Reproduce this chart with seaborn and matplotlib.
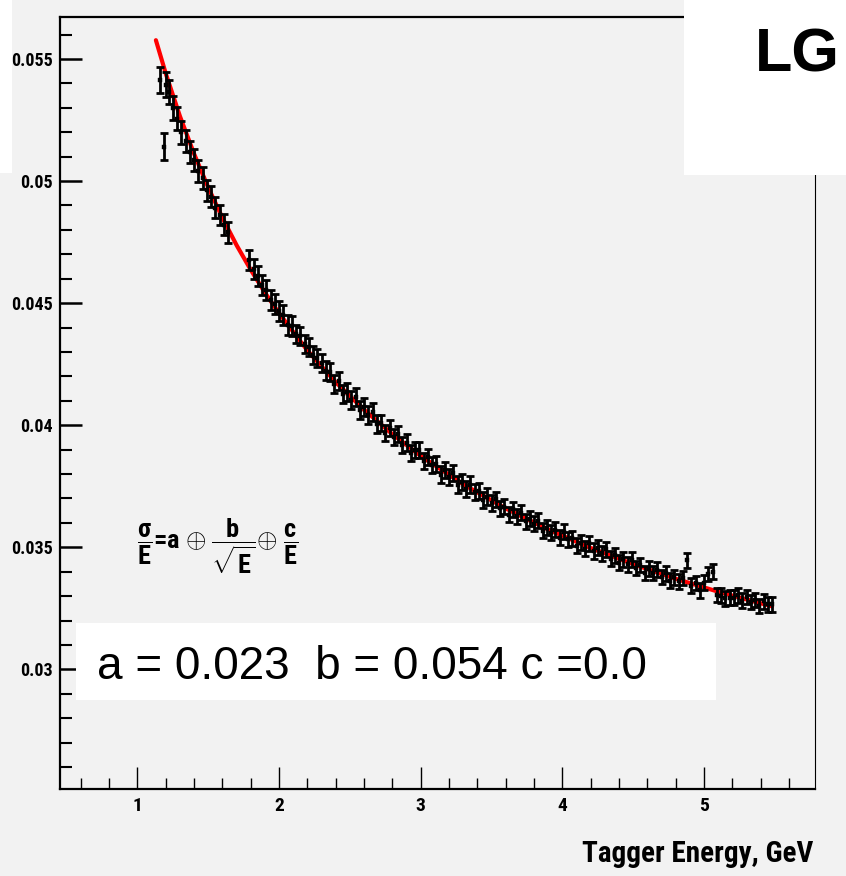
import matplotlib
matplotlib.use("Agg")
import matplotlib.pyplot as plt
import seaborn as sns
import pandas as pd
from matplotlib.patches import Rectangle
from matplotlib.ticker import MultipleLocator

# ---------------- data ----------------
energy = [
    1.16, 1.19, 1.20, 1.22, 1.25, 1.28, 1.31, 1.34, 1.37, 1.40,
    1.43, 1.46, 1.49, 1.52, 1.55, 1.58, 1.61, 1.64,
    1.79, 1.82, 1.85, 1.88, 1.91, 1.94, 1.97, 2.00, 2.03, 2.06,
    2.09, 2.12, 2.15, 2.18, 2.21, 2.24, 2.27, 2.30, 2.33, 2.36,
    2.39, 2.42, 2.45, 2.48, 2.51, 2.54, 2.57, 2.60, 2.63, 2.66,
    2.69, 2.72, 2.75, 2.78, 2.81, 2.84, 2.87, 2.90, 2.93, 2.96,
    2.99, 3.02, 3.05, 3.08, 3.11, 3.14, 3.17, 3.20, 3.23, 3.26,
    3.29, 3.32, 3.35, 3.38, 3.41, 3.44, 3.47, 3.50, 3.53, 3.56,
    3.59, 3.62, 3.65, 3.68, 3.71, 3.74, 3.77, 3.80, 3.83, 3.86,
    3.89, 3.92, 3.95, 3.98, 4.01, 4.04, 4.07, 4.10, 4.13, 4.16,
    4.19, 4.22, 4.25, 4.28, 4.31, 4.34, 4.37, 4.40, 4.43, 4.46,
    4.49, 4.52, 4.55, 4.58, 4.61, 4.64, 4.67, 4.70, 4.73, 4.76,
    4.79, 4.82, 4.85, 4.88, 4.91, 4.94, 4.97, 5.00, 5.03, 5.06,
    5.09, 5.12, 5.15, 5.18, 5.21, 5.24, 5.27, 5.30, 5.33, 5.36,
    5.39, 5.42, 5.45, 5.48,
]
sigma_over_e = [
    0.05414, 0.05140, 0.05395, 0.05365, 0.05300, 0.05255, 0.05200, 0.05165, 0.05118, 0.05085,
    0.05040, 0.05012, 0.04962, 0.04935, 0.04890, 0.04862, 0.04822, 0.04790,
    0.04676, 0.04639, 0.04613, 0.04573, 0.04552, 0.04513, 0.04497, 0.04466, 0.04453, 0.04412,
    0.04405, 0.04374, 0.04364, 0.04332, 0.04320, 0.04287, 0.04277, 0.04253, 0.04224, 0.04217,
    0.04170, 0.04180, 0.04126, 0.04137, 0.04104, 0.04115, 0.04063, 0.04075, 0.04043, 0.04055,
    0.04004, 0.04009, 0.03967, 0.03988, 0.03950, 0.03964, 0.03919, 0.03929, 0.03888, 0.03899,
    0.03899, 0.03854, 0.03870, 0.03838, 0.03842, 0.03798, 0.03815, 0.03787, 0.03804, 0.03757,
    0.03766, 0.03739, 0.03757, 0.03727, 0.03732, 0.03694, 0.03708, 0.03683, 0.03697, 0.03660,
    0.03666, 0.03633, 0.03656, 0.03627, 0.03642, 0.03606, 0.03617, 0.03597, 0.03608, 0.03568,
    0.03580, 0.03560, 0.03572, 0.03540, 0.03564, 0.03533, 0.03537, 0.03506, 0.03518, 0.03495,
    0.03516, 0.03485, 0.03498, 0.03475, 0.03492, 0.03453, 0.03467, 0.03436, 0.03450, 0.03431,
    0.03449, 0.03415, 0.03428, 0.03394, 0.03412, 0.03394, 0.03408, 0.03378, 0.03393, 0.03363,
    0.03377, 0.03360, 0.03374, 0.03446, 0.03343, 0.03354, 0.03324, 0.03355, 0.03390, 0.03400,
    0.03304, 0.03302, 0.03291, 0.03294, 0.03294, 0.03303, 0.03282, 0.03297, 0.03276, 0.03284,
    0.03259, 0.03279, 0.03266, 0.03266,
]
sigma_err = [
    0.00055, 0.00055, 0.00050, 0.00048, 0.00048, 0.00047, 0.00047, 0.00046, 0.00046, 0.00045,
    0.00045, 0.00044, 0.00044, 0.00043, 0.00043, 0.00042, 0.00042, 0.00042,
    0.00041, 0.00041, 0.00041, 0.00041, 0.00041, 0.00041, 0.00041, 0.00041, 0.00041, 0.00041,
    0.00041, 0.00037, 0.00037, 0.00037, 0.00037, 0.00037, 0.00037, 0.00037, 0.00037, 0.00037,
    0.00037, 0.00037, 0.00037, 0.00037, 0.00037, 0.00037, 0.00037, 0.00037, 0.00037, 0.00037,
    0.00037, 0.00033, 0.00033, 0.00033, 0.00033, 0.00033, 0.00033, 0.00033, 0.00033, 0.00033,
    0.00033, 0.00033, 0.00033, 0.00033, 0.00033, 0.00033, 0.00033, 0.00033, 0.00033, 0.00033,
    0.00033, 0.00033, 0.00033, 0.00033, 0.00033, 0.00033, 0.00033, 0.00033, 0.00031, 0.00031,
    0.00031, 0.00031, 0.00031, 0.00031, 0.00031, 0.00031, 0.00031, 0.00031, 0.00031, 0.00031,
    0.00031, 0.00031, 0.00031, 0.00031, 0.00031, 0.00031, 0.00031, 0.00031, 0.00031, 0.00031,
    0.00031, 0.00031, 0.00031, 0.00031, 0.00031, 0.00031, 0.00031, 0.00031, 0.00031, 0.00031,
    0.00031, 0.00030, 0.00030, 0.00030, 0.00030, 0.00030, 0.00030, 0.00030, 0.00030, 0.00030,
    0.00030, 0.00030, 0.00030, 0.00030, 0.00030, 0.00030, 0.00030, 0.00030, 0.00030, 0.00030,
    0.00030, 0.00030, 0.00030, 0.00030, 0.00030, 0.00030, 0.00030, 0.00030, 0.00030, 0.00030,
    0.00030, 0.00030, 0.00030, 0.00030,
]
# fitted curve (red)
fit_energy = [1.13, 1.20, 1.30, 1.40, 1.50, 1.60, 1.70, 1.80, 1.90, 2.00, 2.20, 2.40,
              2.60, 2.80, 3.00, 3.30, 3.60, 3.90, 4.20, 4.50, 4.80, 5.10, 5.48]
fit_sigma = [0.05577, 0.05440, 0.05265, 0.05111, 0.04973, 0.04849, 0.04737, 0.04636,
             0.04543, 0.04458, 0.04306, 0.04176, 0.04063, 0.03963, 0.03874, 0.03758,
             0.03659, 0.03573, 0.03497, 0.03431, 0.03371, 0.03318, 0.03258]

x_ticks = [1, 2, 3, 4, 5]
x_tick_labels = ["1", "2", "3", "4", "5"]
y_ticks = [0.03, 0.035, 0.04, 0.045, 0.05, 0.055]
y_tick_labels = ["0.03", "0.035", "0.04", "0.045", "0.05", "0.055"]
x_label = "Tagger Energy, GeV"
tag_text = "LG"
param_text = "a = 0.023  b = 0.054 c =0.0"
formula_text = r"$\dfrac{\sigma}{E}$=a $\oplus$ $\dfrac{b}{\sqrt{E}}$$\oplus$ $\dfrac{c}{E}$"

# ---------------- style ----------------
BG = "#f2f2f2"
NARROW = ["Roboto Condensed", "DejaVu Sans"]
sns.set_style("ticks")
plt.rcParams["font.family"] = NARROW
plt.rcParams["mathtext.fontset"] = "custom"
plt.rcParams["mathtext.rm"] = "Roboto Condensed:bold"
plt.rcParams["mathtext.it"] = "Roboto Condensed:bold"
plt.rcParams["mathtext.bf"] = "Roboto Condensed:bold"
plt.rcParams["mathtext.sf"] = "Roboto Condensed:bold"
plt.rcParams["mathtext.default"] = "bf"
for key in ["text.color", "axes.labelcolor", "xtick.color", "ytick.color", "axes.edgecolor"]:
    plt.rcParams[key] = "black"

W, H = 846, 876
fig = plt.figure(figsize=(W / 100, H / 100), dpi=100, facecolor=BG)
ax = fig.add_axes([60 / W, 1 - 789 / H, (815 - 60) / W, (789 - 17) / H])
ax.set_facecolor(BG)

df = pd.DataFrame({"E": energy, "s": sigma_over_e, "err": sigma_err})
fit_df = pd.DataFrame({"E": fit_energy, "s": fit_sigma})

sns.lineplot(data=fit_df, x="E", y="s", color="#ff0000", linewidth=3.0,
             ax=ax, zorder=1, sort=False)
ax.errorbar(df["E"], df["s"], yerr=df["err"], fmt="none", ecolor="black",
            elinewidth=2.0, capsize=3.2, capthick=2.0, zorder=2)
sns.scatterplot(data=df, x="E", y="s", marker="s", s=12, color="black",
                edgecolor="black", linewidth=0.3, ax=ax, zorder=3)

ax.set_xlim(0.453, 5.783)
ax.set_ylim(0.0251, 0.05672)
ax.set_xlabel("")
ax.set_ylabel("")

ax.set_xticks(x_ticks, x_tick_labels)
ax.set_yticks(y_ticks, y_tick_labels)
ax.xaxis.set_minor_locator(MultipleLocator(0.2))
ax.yaxis.set_minor_locator(MultipleLocator(0.001))
ax.tick_params(which="both", direction="in", top=False, right=False, colors="black")
ax.tick_params(axis="x", which="major", length=16, width=1.0, pad=6, labelsize=14)
ax.tick_params(axis="x", which="minor", length=8, width=1.0)
ax.tick_params(axis="y", which="major", length=16, width=1.8, pad=5, labelsize=13)
ax.tick_params(axis="y", which="minor", length=8.5, width=1.5)
for lab in ax.get_xticklabels() + ax.get_yticklabels():
    lab.set_fontweight("bold")
    lab.set_family(NARROW)

for side in ["left", "bottom", "top"]:
    ax.spines[side].set_linewidth(1.6)
    ax.spines[side].set_color("black")
ax.spines["right"].set_linewidth(0.8)
ax.spines["right"].set_color("black")
ax.spines["top"].set_visible(True)
ax.spines["right"].set_visible(True)

# white overlay boxes
def fig_box(x0, y0, x1, y1):
    fig.patches.append(Rectangle((x0 / W, 1 - y1 / H), (x1 - x0) / W, (y1 - y0) / H,
                                 transform=fig.transFigure, facecolor="white",
                                 edgecolor="none", zorder=5))

fig_box(0, 0, 12, 173)
fig_box(684, 0, W, 175)
fig_box(76, 623, 716, 700)

fig.text(755 / W, 1 - 72 / H, tag_text, family="Liberation Sans", weight="bold",
         fontsize=44, color="black", ha="left", va="baseline", zorder=6)
fig.text(97 / W, 1 - 679 / H, param_text, family="Liberation Sans",
         fontsize=33, color="black", ha="left", va="baseline", zorder=6)
fig.text(137 / W, 1 - 546 / H, formula_text, fontsize=19, weight="bold",
         family=NARROW, color="black", ha="left", va="center", zorder=6)
fig.text(813 / W, 1 - 862 / H, x_label, fontsize=21, weight="bold",
         family=NARROW, color="black", ha="right", va="baseline", zorder=6)

fig.savefig("out.png", dpi=100, facecolor=BG)
